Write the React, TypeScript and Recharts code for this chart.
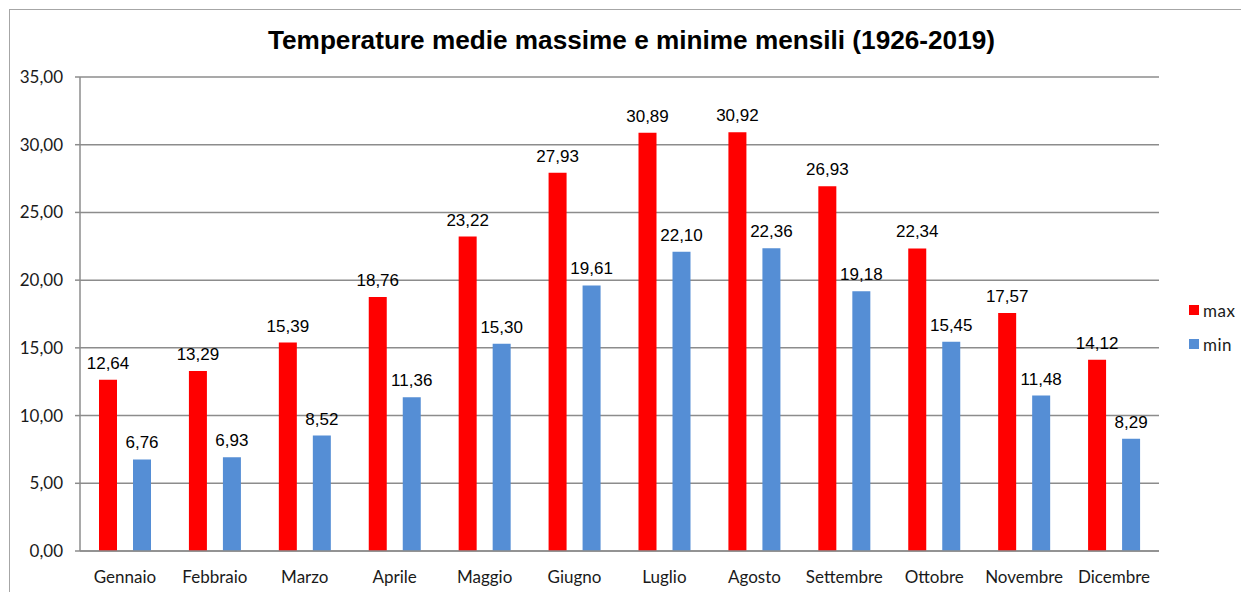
import { Bar, BarChart, CartesianGrid, LabelList, XAxis, YAxis } from 'recharts'

const mesi = ['Gennaio', 'Febbraio', 'Marzo', 'Aprile', 'Maggio', 'Giugno', 'Luglio', 'Agosto', 'Settembre', 'Ottobre', 'Novembre', 'Dicembre']
const maxValues = [12.64, 13.29, 15.39, 18.76, 23.22, 27.93, 30.89, 30.92, 26.93, 22.34, 17.57, 14.12]
const minValues = [6.76, 6.93, 8.52, 11.36, 15.3, 19.61, 22.1, 22.36, 19.18, 15.45, 11.48, 8.29]
const yTicks = [0, 5, 10, 15, 20, 25, 30, 35]
const series = [
  { key: 'max', color: '#ff0000' },
  { key: 'min', color: '#558ed5' },
]
const title = 'Temperature medie massime e minime mensili (1926-2019)'

const data = mesi.map((mese, i) => ({ mese, max: maxValues[i], min: minValues[i] }))

const fmt = (v: unknown) => Number(v).toFixed(2).replace('.', ',')

const GRID = '#8c8c8c'
const TICK_FONT = { fontSize: 17, fill: '#1a1a1a', fontFamily: 'Lato, sans-serif' }

export default function App() {
  return (
    // fixed: così la pagina non scorre e niente barra di scorrimento
    <div style={{ position: 'fixed', left: 8, top: 8, width: 1233, height: 584, overflow: 'hidden', background: '#fff' }}>
      {/* cornice del grafico, tagliata a destra e in basso come nell'originale */}
      <div style={{ position: 'absolute', left: 1, top: 1, width: 1400, height: 800, border: '1px solid #a6a6a6' }} />

      <BarChart
        width={1233}
        height={584}
        data={data}
        margin={{ top: 69, right: 82, left: 0, bottom: 0 }}
        barSize={18}
        barGap={16}
        style={{ position: 'absolute', left: 0, top: 0 }}
      >
        <CartesianGrid vertical={false} stroke={GRID} strokeWidth={1.5} />
        <XAxis
          dataKey="mese"
          height={41}
          tickLine={false}
          tickSize={0}
          tickMargin={20}
          axisLine={{ stroke: GRID, strokeWidth: 1.5 }}
          tick={TICK_FONT}
          interval={0}
        />
        <YAxis
          width={72}
          domain={[0, 35]}
          ticks={yTicks}
          tickFormatter={fmt}
          tickSize={5}
          tickMargin={12}
          axisLine={{ stroke: GRID, strokeWidth: 1.5 }}
          tickLine={{ stroke: GRID, strokeWidth: 1.5 }}
          tick={TICK_FONT}
          interval={0}
        />
        {series.map((s) => (
          <Bar key={s.key} dataKey={s.key} fill={s.color} isAnimationActive={false}>
            <LabelList
              dataKey={s.key}
              position="top"
              offset={11}
              formatter={fmt}
              style={{ fontSize: 17, fill: '#000', fontFamily: '"Liberation Sans", Arial, sans-serif' }}
            />
          </Bar>
        ))}
      </BarChart>

      <svg width={1233} height={60} style={{ position: 'absolute', left: 0, top: 0 }}>
        <text
          x={623.5}
          y={41}
          textAnchor="middle"
          textLength={727}
          lengthAdjust="spacingAndGlyphs"
          style={{ fontSize: 26, fontWeight: 'bold', fontFamily: '"Liberation Sans", Arial, sans-serif', fill: '#000' }}
        >
          {title}
        </text>
      </svg>

      <div style={{ position: 'absolute', left: 1181, top: 292, fontFamily: 'Lato, sans-serif', fontSize: 17, color: '#1a1a1a' }}>
        {series.map((s) => (
          <div key={s.key} style={{ display: 'flex', alignItems: 'center', height: 20, marginBottom: 14 }}>
            <span style={{ width: 10, height: 10, background: s.color, marginRight: 4, display: 'inline-block' }} />
            <span style={{ letterSpacing: 0.5 }}>{s.key}</span>
          </div>
        ))}
      </div>
    </div>
  )
}
